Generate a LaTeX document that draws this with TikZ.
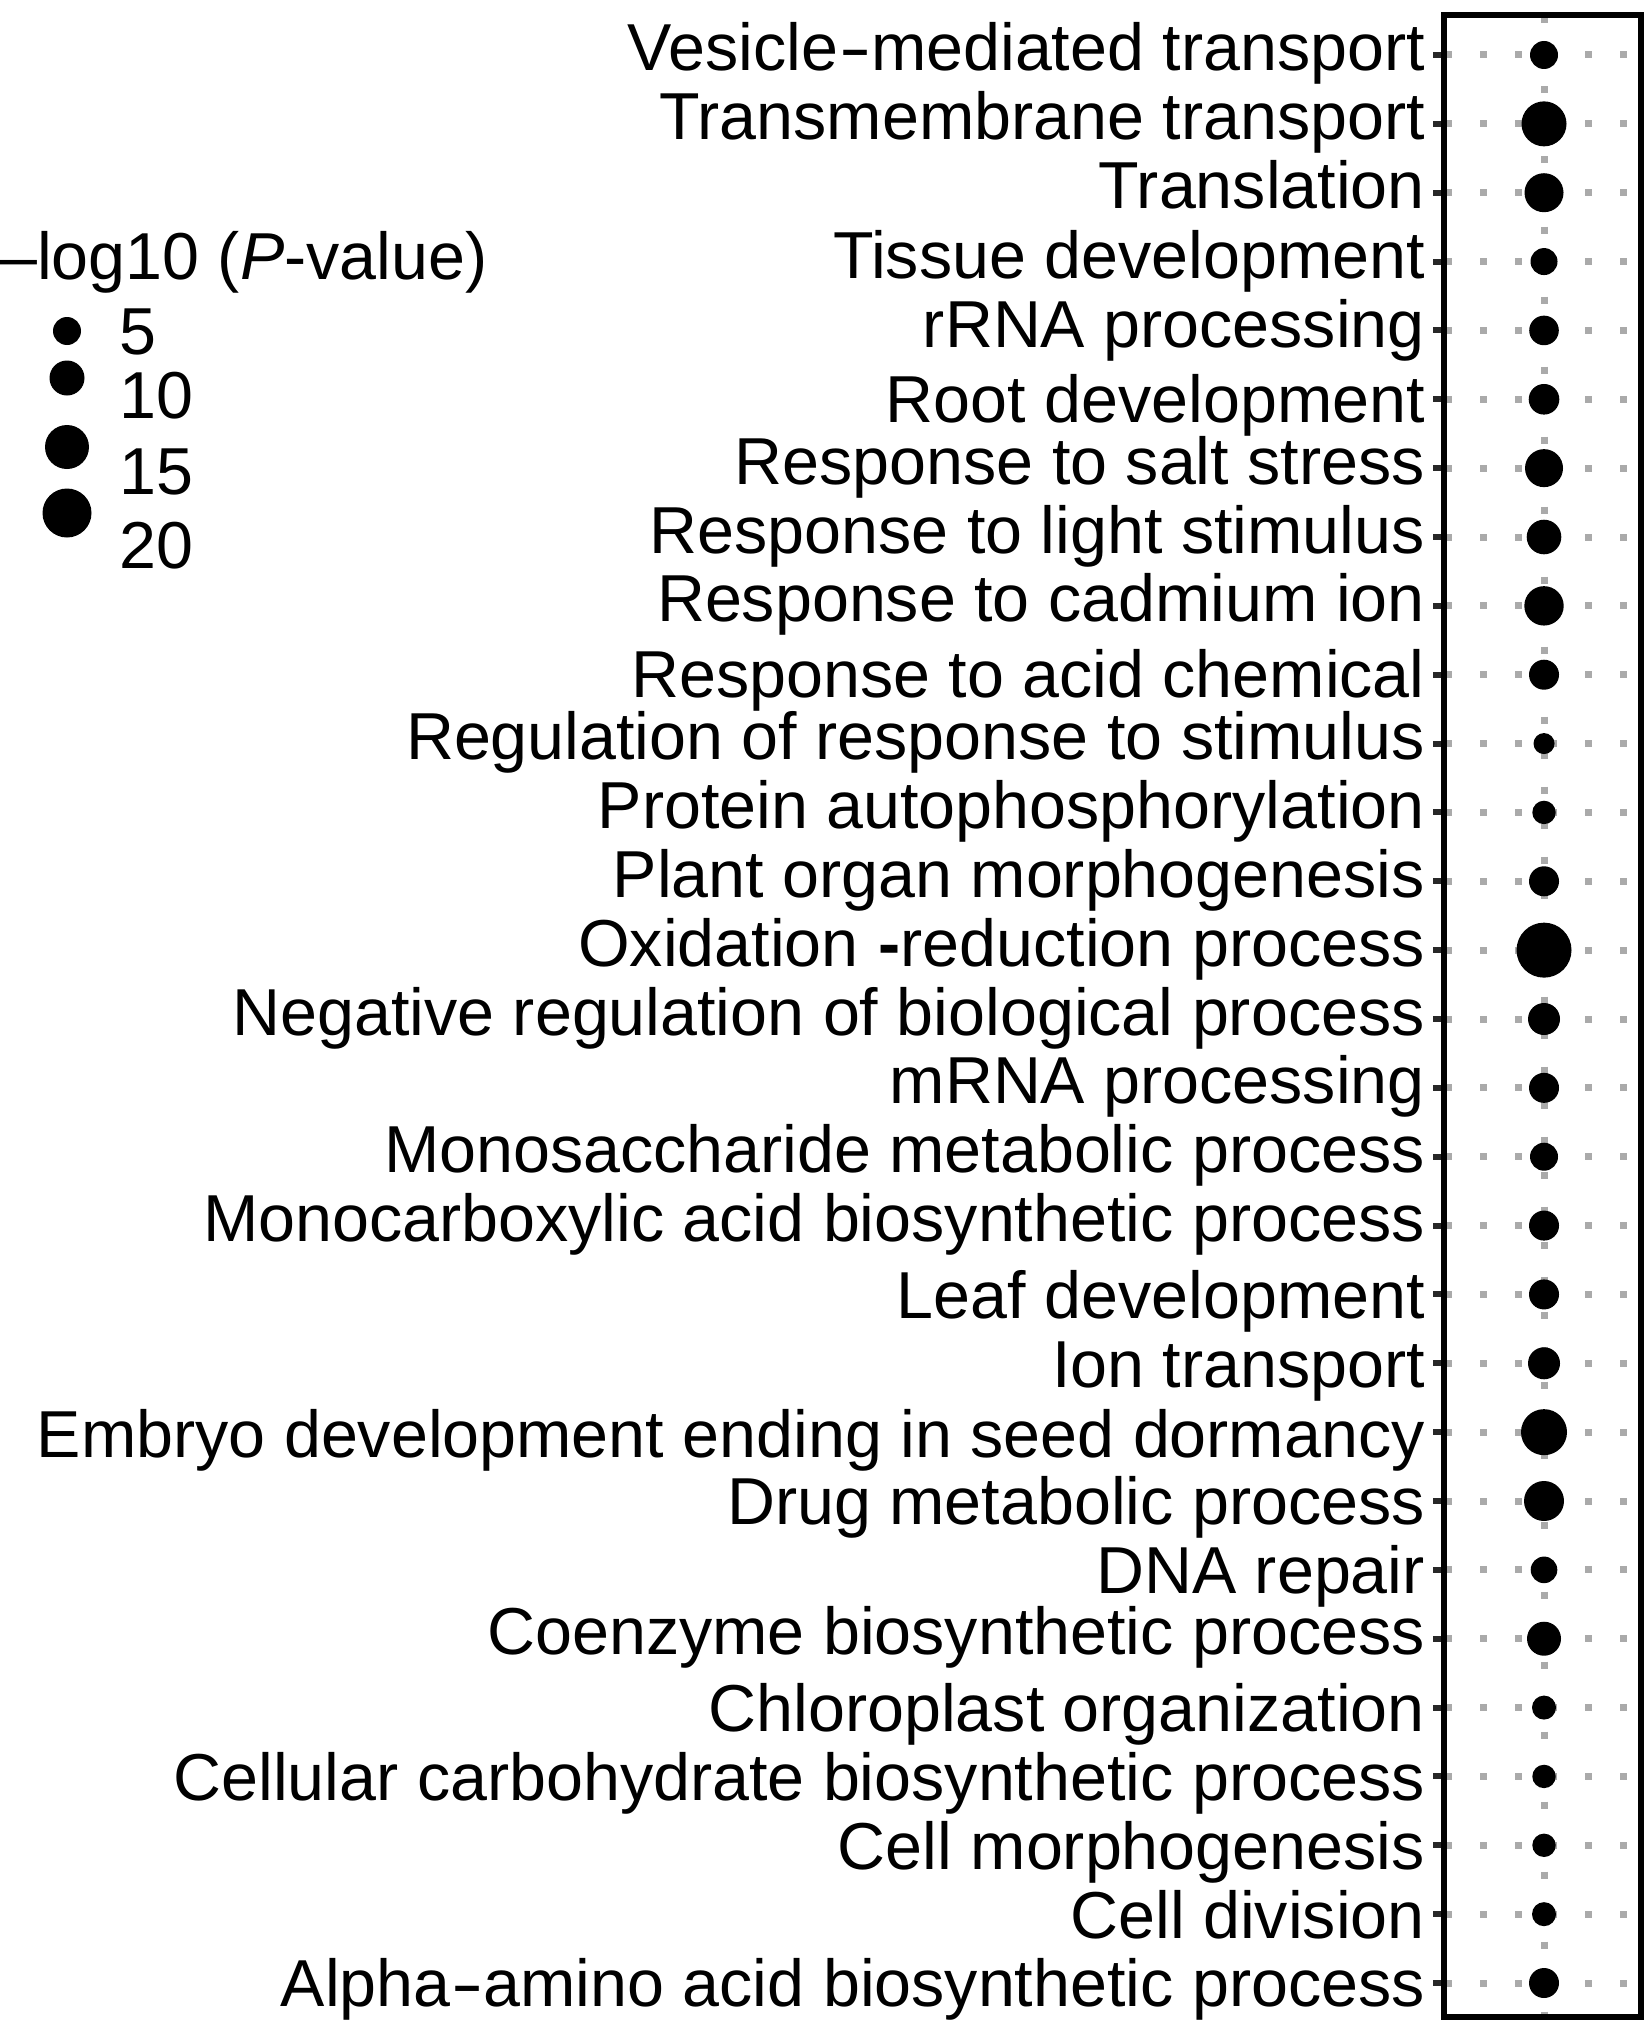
\documentclass[tikz,border=0pt]{standalone}
\usepackage{graphicx}
\usepackage{fontspec}
\setmainfont{Liberation Sans}
\definecolor{gridgray}{RGB}{170,170,170}
\definecolor{tickgray}{RGB}{40,40,40}
\newcommand{\hy}{\kern1pt\scalebox{1.45}[1]{-}}
\begin{document}
\begin{tikzpicture}[x=1pt,y=-1pt,
  lab/.style={anchor=base east, inner sep=0pt, font=\fontsize{66.4}{80}\selectfont},
  leglab/.style={anchor=base west, inner sep=0pt, font=\fontsize{66.4}{80}\selectfont},
  gridline/.style={gridgray, line width=7pt, dash pattern=on 7pt off 28pt},
  tickline/.style={tickgray, line width=6pt},
  panel/.style={black, line width=6pt},
  dot/.style={fill=black}]
\useasboundingbox (0,0) rectangle (1649,2028);
% grid
\foreach \i in {0,...,28}{
  \pgfmathsetmacro{\yy}{55+68.857*\i}
  \draw[gridline] (1445,\yy) -- (1641,\yy);
}
\draw[gridline] (1544,16.5) -- (1544,2017);
% rows: label / radius / baseline offset
\foreach \t/\r/\o [count=\i from 0] in {
  {Vesicle\hy mediated transport}/14/16,
  Transmembrane transport/22.5/16,
  Translation/19.5/16,
  Tissue development/13.5/17,
  rRNA processing/14.8/17,
  Root development/15.3/23,
  Response to salt stress/19/16,
  Response to light stimulus/17.3/16,
  Response to cadmium ion/19.7/16,
  Response to acid chemical/15/23,
  Regulation of response to stimulus/10.5/16,
  Protein autophosphorylation/11.7/16,
  Plant organ morphogenesis/15/16,
  {Oxidation\kern0.3em\textbf{-}reduction process}/27.5/16,
  Negative regulation of biological process/16/16,
  mRNA processing/15/16,
  Monosaccharide metabolic process/14/16,
  Monocarboxylic acid biosynthetic process/15/16,
  Leaf development/15/24,
  Ion transport/16/24,
  Embryo development ending in seed dormancy/23/25,
  Drug metabolic process/20/23,
  DNA repair/13.3/24,
  Coenzyme biosynthetic process/17/16,
  Chloroplast organization/12/24,
  Cellular carbohydrate biosynthetic process/11.7/24,
  Cell morphogenesis/11.7/24,
  Cell division/12/24,
  {Alpha\hy amino acid biosynthetic process}/15/23}{
  \pgfmathsetmacro{\yy}{55+68.857*\i}
  \pgfmathsetmacro{\yb}{\yy+\o}
  \node[lab] (lab\i) at (1425,\yb) {\t};
  \coordinate (tk\i) at (1433,\yy);
  \coordinate (ax\i) at (1444,\yy);
  \draw[tickline] (tk\i) -- (ax\i);
  \fill[dot] (1544,\yy) circle[radius=\r pt];
}
% panel border
\draw[panel] (1444,15) rectangle (1641,2017);
% legend
\node[leglab] (legtitle) at (0,279) {–log10 (\textit{P}-value)};
\fill[dot] (67,331) circle[radius=14pt];
\fill[dot] (67,378) circle[radius=17.5pt];
\fill[dot] (67,447) circle[radius=22pt];
\fill[dot] (67,513) circle[radius=24.5pt];
\node[leglab] (leg5) at (119,354) {5};
\node[leglab] (leg10) at (119,418) {10};
\node[leglab] (leg15) at (119,494) {15};
\node[leglab] (leg20) at (119,568) {20};
\end{tikzpicture}
\end{document}
